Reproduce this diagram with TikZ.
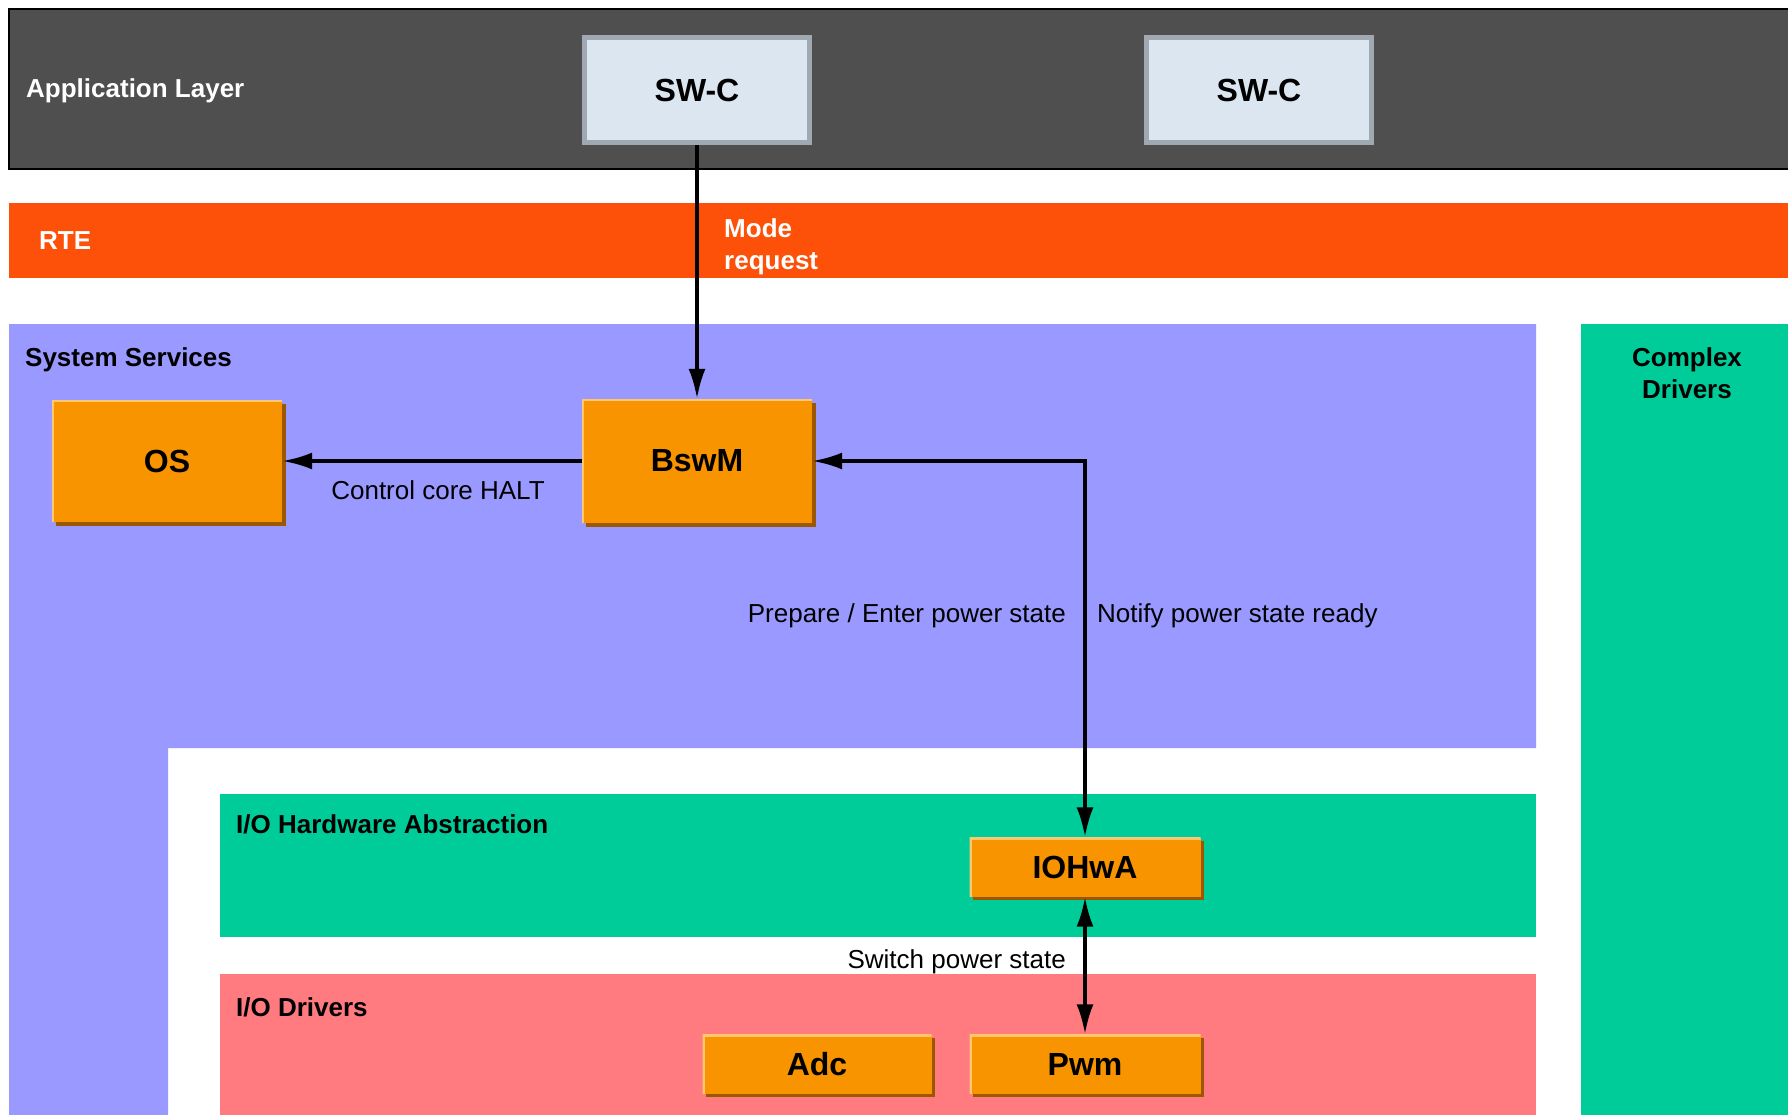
\documentclass[tikz,border=0pt]{standalone}
\usepackage{fontspec}
\setmainfont{Liberation Sans}
\usetikzlibrary{arrows.meta,shadows}
\definecolor{appgray}{HTML}{4F4F4F}
\definecolor{swcfill}{HTML}{DCE6F0}
\definecolor{swcborder}{HTML}{A0A9B1}
\definecolor{rtecol}{HTML}{FD5008}
\definecolor{lav}{HTML}{9999FF}
\definecolor{grn}{HTML}{00CC99}
\definecolor{pinkcol}{HTML}{FF7B80}
\definecolor{orng}{HTML}{F79400}
\definecolor{orngdark}{HTML}{9C5800}
\definecolor{ornglight}{HTML}{FFC870}
\begin{document}
\begin{tikzpicture}[x=1pt,y=-1pt,
  layerlbl/.style={font=\fontsize{26}{32}\selectfont\bfseries, inner sep=0pt, anchor=base west},
  conlbl/.style={font=\fontsize{26}{32}\selectfont, inner sep=0pt},
  swcbox/.style={draw=swcborder, line width=5pt, fill=swcfill, minimum width=225pt, minimum height=105pt,
    inner sep=0pt, font=\fontsize{32}{38}\selectfont\bfseries},
  modbox/.style={fill=orng, inner sep=0pt, font=\fontsize{32}{38}\selectfont\bfseries,
    drop shadow={shadow xshift=3.5pt, shadow yshift=-3.5pt, fill=orngdark, opacity=1},
    path picture={\draw[ornglight, line width=4pt] (path picture bounding box.south west) -- (path picture bounding box.north west) -- (path picture bounding box.north east);}},
  conn/.style={line width=3.5pt, black}
]
\clip (0,0) rectangle (1788,1115);
\fill[white] (0,0) rectangle (1788,1115);
% layers
\draw[fill=appgray, line width=1.5pt] (9,9) rectangle (1795,169);
\fill[rtecol] (9,203) rectangle (1788,278);
\fill[lav] (9,324) -- (1536,324) -- (1536,748) -- (168,748) -- (168,1115) -- (9,1115) -- cycle;
\fill[grn] (1581,324) rectangle (1788,1115);
\fill[grn] (220,794) rectangle (1536,937);
\fill[pinkcol] (220,974) rectangle (1536,1115);
% layer labels
\node[layerlbl, white] (lapp) at (26,98) {Application Layer};
\node[layerlbl, white] (lrte) at (39,250) {RTE};
\node[layerlbl] (lsys) at (25,366) {System Services};
\node[layerlbl] (lioh) at (236,833) {I/O Hardware Abstraction};
\node[layerlbl] (liod) at (236,1016) {I/O Drivers};
\node[font=\fontsize{26}{32}\selectfont\bfseries, inner sep=0pt, align=center, anchor=north] (lcdd) at (1687,347) {Complex\\Drivers};
% nodes
\node[swcbox] (swc1) at (697,90) {SW-C};
\node[swcbox] (swc2) at (1259,90) {SW-C};
\node[modbox, minimum width=230pt, minimum height=122pt] (os) at (167,461) {OS};
\node[modbox, minimum width=230pt, minimum height=124pt] (bswm) at (697,461) {BswM};
\node[modbox, minimum width=231pt, minimum height=59pt] (iohwa) at (1085,867) {IOHwA};
\node[modbox, minimum width=229pt, minimum height=59pt] (adc) at (817,1064) {Adc};
\node[modbox, minimum width=231pt, minimum height=59pt] (pwm) at (1085,1064) {Pwm};
% connectors
\draw[conn, -{Latex[length=30pt,width=17pt]}] (swc1.south) -- (bswm.north);
\draw[conn, -{Latex[length=30pt,width=17pt]}] (bswm.west) -- (os.east);
\draw[conn, {Latex[length=30pt,width=17pt]}-{Latex[length=30pt,width=17pt]}] (iohwa.north) |- (bswm.east);
\draw[conn, {Latex[length=30pt,width=17pt]}-{Latex[length=30pt,width=17pt]}] (iohwa.south) -- (pwm.north);
% connector labels
\node[font=\fontsize{26}{32}\selectfont\bfseries, text=white, inner sep=0pt, align=left, anchor=north west] (lmode) at (724,218) {Mode\\request};
\node[conlbl] (lhalt) at (438,490) {Control core HALT};
\node[conlbl, anchor=base east] (lprep) at (1066,622) {Prepare / Enter power state};
\node[conlbl, anchor=base west] (lnotify) at (1097,622) {Notify power state ready};
\node[conlbl, anchor=base east] (lswitch) at (1066,968) {Switch power state};
\end{tikzpicture}
\end{document}
